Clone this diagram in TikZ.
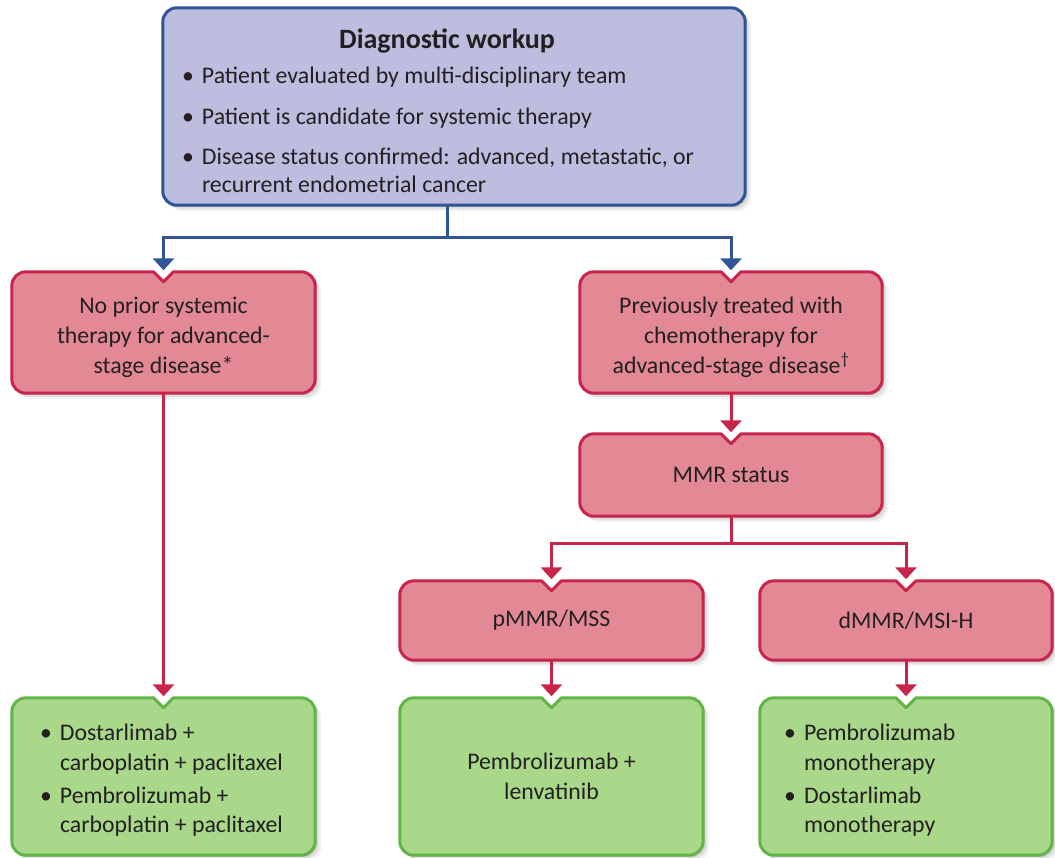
\documentclass[tikz,border=0pt]{standalone}
\usepackage{fontspec}
\setmainfont{Carlito}
\usetikzlibrary{arrows.meta,calc,shadows}

\definecolor{wkfill}{HTML}{BCBDDF}
\definecolor{wkline}{HTML}{2F5597}
\definecolor{rdfill}{HTML}{E38996}
\definecolor{rdline}{HTML}{C8254D}
\definecolor{gnfill}{HTML}{AAD88B}
\definecolor{gnline}{HTML}{62B446}
\definecolor{ink}{HTML}{231F20}

\pgfdeclarelayer{paper}
\pgfdeclarelayer{boxes}
\pgfsetlayers{paper,boxes,main}

% line break that stays inside the current paragraph
\newcommand\nl{\hfil\break}
% bullet paragraph with a hanging indent
\newcommand\bitem[1]{\par\hangindent=20pt\hangafter=1\noindent\hbox to 20pt{\textbullet\hfil}#1\par}

% rounded box with a V notch under the incoming arrow
\newcommand\notchbox[2]{%
  \path[#2] let \p1=(#1.north west), \p2=(#1.south east), \p3=(#1.north) in
    (\x3+10pt,\y1) -- (\x2-14pt,\y1) arc[start angle=90,end angle=0,radius=14pt]
    -- (\x2,\y2+14pt) arc[start angle=0,end angle=-90,radius=14pt]
    -- (\x1+14pt,\y2) arc[start angle=270,end angle=180,radius=14pt]
    -- (\x1,\y1-14pt) arc[start angle=180,end angle=90,radius=14pt]
    -- (\x3-10pt,\y1) -- (\x3,\y1-10pt) -- cycle;}

\tikzset{
  softshadow/.style={
    general shadow={fill=black,opacity=.10,shadow xshift=2pt,shadow yshift=-2pt},
    general shadow={fill=black,opacity=.07,shadow xshift=4pt,shadow yshift=-4pt},
    general shadow={fill=black,opacity=.05,shadow xshift=6pt,shadow yshift=-6pt}},
  blueshape/.style={softshadow,fill=wkfill,draw=wkline,line width=3pt,rounded corners=14pt},
  redshape/.style={softshadow,fill=rdfill,draw=rdline,line width=3pt,line join=round},
  greenshape/.style={softshadow,fill=gnfill,draw=gnline,line width=3pt,line join=round},
  holder/.style={inner sep=0pt,text=ink},
  ctext/.style={holder,align=center,font=\fontsize{23.8}{30}\selectfont},
  btext/.style={holder,align=flush left,font=\fontsize{23.8}{29.5}\selectfont},
  bluecon/.style={draw=wkline,line width=3pt,-{Triangle[width=21pt,length=12pt]},shorten >=1.5pt},
  redcon/.style={draw=rdline,line width=3pt,-{Triangle[width=21pt,length=12pt]},shorten >=1.5pt},
}

\begin{document}
\begin{tikzpicture}[x=1pt,y=1pt]
\useasboundingbox (0,0) rectangle (1055,-857);
\begin{pgfonlayer}{paper}
  \fill[white] (0,0) rectangle (1055,-857);
\end{pgfonlayer}

% text holders, one per box
\node[btext,minimum width=582pt,minimum height=197pt,text width=562pt] (top) at (454,-106.5)
  {\fontsize{23.8}{28}\selectfont\setlength\parskip{12.5pt}\setlength\leftskip{9pt}%
   {\centering\fontsize{28}{33}\selectfont\bfseries\hspace*{-14pt}Diagnostic workup\par}%
   \vspace{-5pt}%
   \bitem{Patient evaluated by multi-disciplinary team}%
   \bitem{Patient is candidate for systemic therapy}%
   \bitem{Disease status confirmed: advanced, metastatic, or\nl recurrent endometrial cancer}%
   \par\kern-8pt};

\node[ctext,minimum width=303pt,minimum height=121pt] (nop) at (163.5,-332.5)
  {\rule{0pt}{26pt}No prior systemic\\therapy for advanced-\\stage disease*};
\node[ctext,minimum width=302pt,minimum height=121pt] (prev) at (731,-332.5)
  {\rule{0pt}{26pt}Previously treated with\\chemotherapy for\\advanced-stage disease\textsuperscript{\textdagger}};
\node[ctext,minimum width=302pt,minimum height=82pt] (mmr) at (731,-475) {MMR status};
\node[ctext,minimum width=303pt,minimum height=79pt] (pmmr) at (551.5,-620.5) {pMMR/MSS};
\node[ctext,minimum width=292pt,minimum height=79pt] (dmmr) at (906,-620.5) {dMMR/MSI-H};

\node[btext,minimum width=303pt,minimum height=157pt,text width=283pt] (gl) at (163.5,-776.5)
  {\setlength\parskip{3.5pt}\setlength\leftskip{18pt}%
   \bitem{Dostarlimab +\nl carboplatin + paclitaxel}%
   \bitem{Pembrolizumab +\nl carboplatin + paclitaxel}%
   \par\kern9pt};
\node[ctext,minimum width=303pt,minimum height=157pt] (gm) at (551.5,-776.5)
  {Pembrolizumab +\\lenvatinib};
\node[btext,minimum width=292pt,minimum height=157pt,text width=272pt] (gr) at (906,-776.5)
  {\setlength\parskip{3.5pt}\setlength\leftskip{14pt}%
   \bitem{Pembrolizumab\nl monotherapy}%
   \bitem{Dostarlimab\nl monotherapy}%
   \par\kern9pt};

% box outlines
\begin{pgfonlayer}{boxes}
  \path[blueshape] (top.north west) rectangle (top.south east);
  \notchbox{nop}{redshape}
  \notchbox{prev}{redshape}
  \notchbox{mmr}{redshape}
  \notchbox{pmmr}{redshape}
  \notchbox{dmmr}{redshape}
  \notchbox{gl}{greenshape}
  \notchbox{gm}{greenshape}
  \notchbox{gr}{greenshape}
\end{pgfonlayer}

% connectors
\draw[bluecon] ([xshift=-7pt]top.south) -- ++(0,-32) coordinate (busA) -| (nop.north);
\draw[bluecon] (busA) -| (prev.north);
\draw[redcon] (prev.south) -- (mmr.north);
\draw[redcon] (mmr.south) -- ++(0,-27) coordinate (busB) -| (pmmr.north);
\draw[redcon] (busB) -| (dmmr.north);
\draw[redcon] (nop.south) -- (gl.north);
\draw[redcon] (pmmr.south) -- (gm.north);
\draw[redcon] (dmmr.south) -- (gr.north);
\end{tikzpicture}
\end{document}
